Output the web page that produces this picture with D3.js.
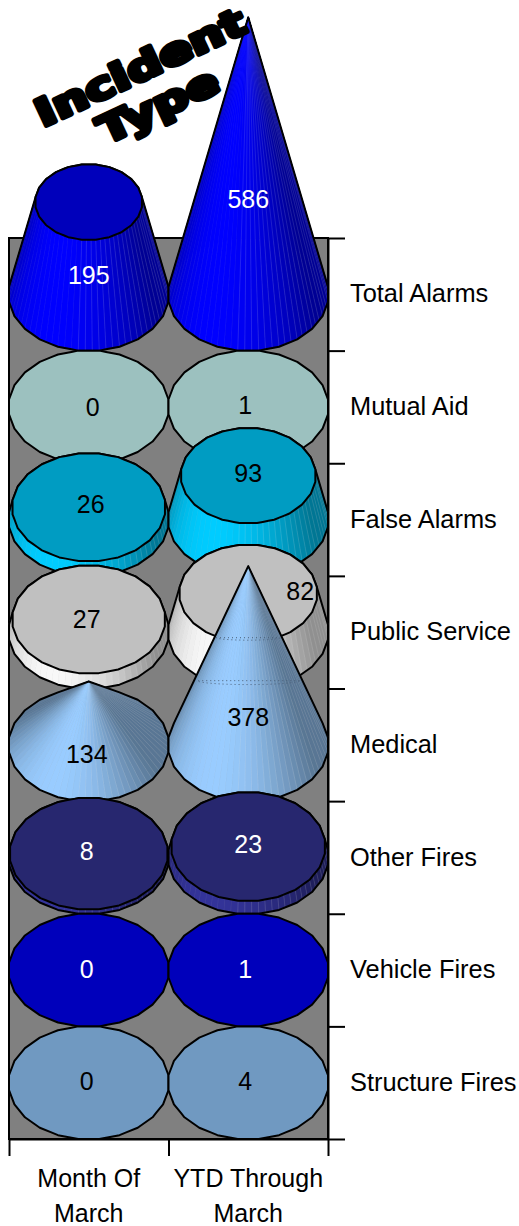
<!DOCTYPE html>
<html>
<head>
<meta charset="utf-8">
<script src="https://cdn.jsdelivr.net/npm/d3@7"></script>
<style>
  body { margin: 0; background: #fff; }
  svg { display: block; }
  text { font-family: "Liberation Sans", Arial, sans-serif; }
</style>
</head>
<body>
<script>
// values, top row first
const categories = ["Total Alarms", "Mutual Aid", "False Alarms", "Public Service", "Medical", "Other Fires", "Vehicle Fires", "Structure Fires"];
const columns = [["Month Of", "March"], ["YTD Through", "March"]];
const monthValues = [195, 0, 26, 27, 134, 8, 0, 0];
const ytdValues = [586, 1, 93, 82, 378, 23, 1, 4];
const pointedRows = ["Medical"];

const sideColors = ["#0000ff", "#9cc1bf", "#00ccff", "#f8f8f8", "#99ccff", "#333399", "#0000ff", "#99ccff"];
const topColors = ["#0000bb", "#9cc1bf", "#009cc2", "#c0c0c0", "#99ccff", "#27276f", "#0000bb", "#7099c1"];
const labelColors = ["#fff", "#000", "#000", "#000", "#000", "#fff", "#fff", "#000"];

// where the data labels were dragged to, relative to the base of each shape
const labelNudge = [
    [[0, -19], [0, -95]],
    [[4, 0], [-3, -2]],
    [[2, -16], [0, -47]],
    [[-2, -13], [52, -41]],
    [[-2, 9], [0, -28]],
    [[-2, -6], [0, -13]],
    [[-2, -1], [-3, -1]],
    [[-2, -2], [-3, -2]]
];

const width = 519;
const height = 1226;
const plotLeft = 9, plotRight = 328, plotTop = 238, plotBottom = 1139;
const maxValue = 586;
const fontSize = 25;

const x = d3.scaleBand().domain(d3.range(columns.length)).range([plotLeft, plotRight]);
const y = d3.scaleBand().domain(categories).range([plotTop, plotBottom]);
const h = d3.scaleLinear().domain([0, maxValue]).range([0, 277]);
// shapes narrow toward the top of the tallest one
const taper = d3.scaleLinear().domain([0, maxValue]).range([1, 0]);

const yTicks = d3.scaleLinear().domain([0, categories.length]).range([plotTop, plotBottom]);
const xTicks = d3.scaleLinear().domain([0, columns.length]).range([plotLeft, plotRight]);

const svg = d3.select("body").append("svg")
    .attr("width", width)
    .attr("height", height);

svg.append("rect")
    .attr("x", plotLeft)
    .attr("y", plotTop)
    .attr("width", plotRight - plotLeft)
    .attr("height", plotBottom - plotTop)
    .attr("fill", "#808080")
    .attr("stroke", "#000")
    .attr("stroke-width", 2);

// axes go under the shapes
let yAxis = d3.axisRight(yTicks)
    .tickValues(d3.range(categories.length + 1))
    .tickFormat("")
    .tickSizeInner(17)
    .tickSizeOuter(0);
let yG = svg.append("g").attr("transform", `translate(${plotRight},0)`).call(yAxis);

let xAxis = d3.axisBottom(xTicks)
    .tickValues(d3.range(columns.length + 1))
    .tickFormat("")
    .tickSizeInner(17)
    .tickSizeOuter(0);
let xG = svg.append("g").attr("transform", `translate(0,${plotBottom})`).call(xAxis);

[yG, xG].forEach((a) => {
    a.selectAll("path, line").attr("stroke", "#000").attr("stroke-width", 2);
});

// 24 sided ring cut into 72 steps, so the outline looks faceted like the original
const SIDES = 24, STEPS = 3;
const GROW = 1 / Math.cos(Math.PI / SIDES);
function ring(cx, cy, rx, ry) {
    let corners = d3.range(SIDES + 1).map((i) => {
        let a = (i + 0.5) * 2 * Math.PI / SIDES;
        return [cx + GROW * rx * Math.cos(a), cy + GROW * ry * Math.sin(a)];
    });
    let pts = [];
    for (let i = 0; i < SIDES; i++) {
        for (let s = 0; s < STEPS; s++) {
            let t = s / STEPS;
            pts.push([
                corners[i][0] + (corners[i + 1][0] - corners[i][0]) * t,
                corners[i][1] + (corners[i + 1][1] - corners[i][1]) * t
            ]);
        }
    }
    return pts;
}

function shade(color, angle) {
    let light = Math.max(0, Math.cos(angle - 1.95));
    let f = 0.58 + 0.42 * Math.pow(light, 1.3);
    let c = d3.rgb(color);
    return d3.rgb(c.r * f, c.g * f, c.b * f).formatRgb();
}

const poly = (pts) => "M" + pts.map((p) => p[0].toFixed(2) + "," + p[1].toFixed(2)).join("L") + "Z";

function drawShape(row, col, value) {
    let g = svg.append("g");
    let cat = categories[row];
    let cx = x(col) + x.bandwidth() / 2;
    let cy = y(cat) + y.bandwidth() / 2;
    let rx = x.bandwidth() / 2;
    let ry = y.bandwidth() / 2;
    let tall = h(value);
    let frac = pointedRows.includes(cat) ? 0 : taper(value);
    let flat = tall <= 2;

    let base = ring(cx, cy, rx, ry);
    let cap = ring(cx, cy - tall, rx * frac, ry * frac);
    let n = base.length;

    if (!flat) {
        let order = d3.range(n).sort((a, b) => {
            return Math.sin((a + 0.5) * 2 * Math.PI / n) - Math.sin((b + 0.5) * 2 * Math.PI / n);
        });
        order.forEach((i) => {
            let j = (i + 1) % n;
            let fill = shade(sideColors[row], (i + 0.5) * 2 * Math.PI / n);
            g.append("path")
                .attr("d", poly([base[i], base[j], cap[j], cap[i]]))
                .attr("fill", fill)
                .attr("stroke", fill)
                .attr("stroke-width", 0.6);
            // pale seam between facets
            g.append("path")
                .attr("d", "M" + base[i] + "L" + cap[i])
                .attr("stroke", "#fff")
                .attr("stroke-opacity", 0.2)
                .attr("stroke-width", 0.6);
        });
    }

    g.append("path")
        .attr("d", poly(d3.polygonHull(flat ? base : base.concat(cap))))
        .attr("fill", flat ? topColors[row] : "none")
        .attr("stroke", "#000")
        .attr("stroke-width", 2)
        .attr("stroke-linejoin", "round");

    if (frac > 0 && !flat) {
        g.append("path")
            .attr("d", poly(cap))
            .attr("fill", topColors[row])
            .attr("stroke", "#000")
            .attr("stroke-width", 2)
            .attr("stroke-linejoin", "round");
    }

    // faint dotted rings across the tall medical cone
    if (cat == "Medical" && col == 1) {
        [0.36, 0.6].forEach((t) => {
            let k = 1 - t;
            let mid = cy - tall * t;
            let front = ring(cx, mid, rx * k, rx * k * 0.08).filter((p) => p[1] > mid);
            g.append("path")
                .attr("d", "M" + front.map((p) => p.join(",")).join("L"))
                .attr("fill", "none")
                .attr("stroke", "#4a5f78")
                .attr("stroke-width", 1)
                .attr("stroke-dasharray", "1 3");
        });
    }
}

// rows go top to bottom so the lower shapes sit in front
categories.forEach((cat, row) => {
    drawShape(row, 0, monthValues[row]);
    drawShape(row, 1, ytdValues[row]);
});

// data labels
categories.forEach((cat, row) => {
    [monthValues, ytdValues].forEach((vals, col) => {
        svg.append("text")
            .attr("x", x(col) + x.bandwidth() / 2 + labelNudge[row][col][0])
            .attr("y", y(cat) + y.bandwidth() / 2 + labelNudge[row][col][1])
            .attr("dy", "0.36em")
            .attr("text-anchor", "middle")
            .attr("font-size", fontSize)
            .attr("fill", labelColors[row])
            .text(vals[row]);
    });
});

// category labels
svg.selectAll(".cat")
    .data(categories)
    .enter()
    .append("text")
    .attr("class", "cat")
    .attr("x", 350)
    .attr("y", (d) => y(d) + y.bandwidth() / 2 - 1)
    .attr("dy", "0.36em")
    .attr("font-size", 25.4)
    .attr("fill", "#000")
    .text((d) => d);

// column labels
columns.forEach((lines, col) => {
    lines.forEach((line, i) => {
        svg.append("text")
            .attr("x", x(col) + x.bandwidth() / 2)
            .attr("y", 1187 + i * 35)
            .attr("text-anchor", "middle")
            .attr("font-size", fontSize)
            .attr("fill", "#000")
            .text(line);
    });
});

// slanted heavy title
[["Incident", 140, 67], ["Type", 158, 105]].forEach((t) => {
    svg.append("text")
        .attr("transform", `translate(${t[1]},${t[2]}) rotate(-25) scale(1.3,1)`)
        .attr("text-anchor", "middle")
        .attr("dy", "0.36em")
        .attr("font-size", 38)
        .attr("font-weight", "bold")
        .attr("stroke", "#000")
        .attr("stroke-width", 4.5)
        .attr("stroke-linejoin", "round")
        .attr("fill", "#000")
        .style("font-family", "'DejaVu Sans', sans-serif")
        .text(t[0]);
});
</script>
</body>
</html>
